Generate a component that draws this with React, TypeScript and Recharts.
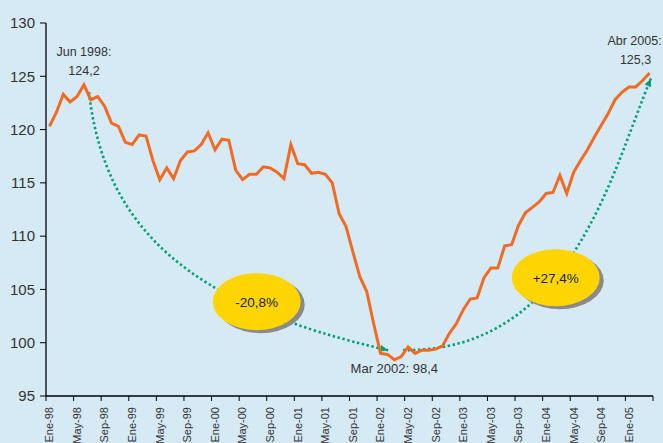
import { ComposedChart, Line, XAxis, YAxis, Customized } from "recharts";

// Índice de precios, mensual Ene-98 .. Abr-05
const meses = ["Ene", "Feb", "Mar", "Abr", "May", "Jun", "Jul", "Ago", "Sep", "Oct", "Nov", "Dic"];
const anios = ["98", "99", "00", "01", "02", "03", "04", "05"];

const indice = [
  120.3, 121.6, 123.3, 122.6, 123.1, 124.2, 122.8, 123.1, 122.2, 120.6, 120.3, 118.8,
  118.6, 119.5, 119.4, 117.1, 115.3, 116.4, 115.4, 117.1, 117.9, 118.0, 118.6, 119.7,
  118.1, 119.1, 119.0, 116.2, 115.3, 115.8, 115.8, 116.5, 116.4, 116.0, 115.4, 118.6,
  116.8, 116.7, 115.9, 116.0, 115.8, 115.0, 112.1, 110.9, 108.5, 106.2, 104.8, 101.8,
  99.0, 98.9, 98.4, 98.7, 99.6, 99.0, 99.3, 99.3, 99.4, 99.7, 100.9, 101.8,
  103.1, 104.1, 104.2, 106.1, 107.0, 107.0, 109.1, 109.2, 111.0, 112.2, 112.7, 113.2,
  114.0, 114.1, 115.7, 114.0, 116.0, 117.1, 118.1, 119.3, 120.4, 121.5, 122.8, 123.5,
  124.0, 124.0, 124.6, 125.3,
];

const etiquetas = anios.flatMap((a) => meses.map((m) => `${m}-${a}`)).slice(0, indice.length);
const data = etiquetas.map((mes, i) => ({ mes, valor: indice[i] }));

const yTicks = [95, 100, 105, 110, 115, 120, 125, 130];

// anotaciones: [índice de mes, valor]
const curvaBaja = [[5.73, 123.5], [8.05, 110.6], [20.4, 103.5], [49.1, 99.3]];
const curvaAlza = [[51.25, 99.3], [75.5, 99.1], [81.4, 115.8], [87.2, 124.8]];
const globos = [
  { i: 30.05, v: 103.85, texto: "-20,8%" },
  { i: 73.4, v: 106.1, texto: "+27,4%" },
];

const W = 663;
const H = 443;
const M = { top: 23, right: 10, left: 0, bottom: 0 };
const YW = 46;
const XH = 47;
const PL = M.left + YW;
const PW = W - M.right - PL;
const PT = M.top;
const PH = H - M.top - XH;
const BW = PW / indice.length;

const px = (i: number) => PL + (i + 0.5) * BW;
const py = (v: number) => PT + ((130 - v) / 35) * PH;

const FONT = "'Liberation Sans', Arial, sans-serif";
const VERDE = "#00a06e";

function XTick(props: any) {
  const { x, y, payload, index } = props;
  const left = x - BW / 2;
  return (
    <g>
      <line x1={left} x2={left} y1={y - 8} y2={y - 3} stroke="#000" />
      {payload.index === 84 || index === 21 ? (
        <line x1={left + 4 * BW} x2={left + 4 * BW} y1={y - 8} y2={y - 3} stroke="#000" />
      ) : null}
      <text
        transform={`translate(${x},${y + 3}) rotate(-90)`}
        textAnchor="end"
        dy="0.35em"
        fontSize={11}
        fill="#333"
        fontFamily={FONT}
      >
        {payload.value}
      </text>
    </g>
  );
}

function curvaPath(pts: number[][]) {
  const p = pts.map(([i, v]) => [px(i), py(v)]);
  return { d: `M${p[0][0]},${p[0][1]} C${p[1][0]},${p[1][1]} ${p[2][0]},${p[2][1]} ${p[3][0]},${p[3][1]}`, p };
}

function Flecha({ pts }: { pts: number[][] }) {
  const { d, p } = curvaPath(pts);
  const [x3, y3] = p[3];
  const [x2, y2] = p[2];
  const a = Math.atan2(y3 - y2, x3 - x2);
  const L = 8;
  const w = 3.5;
  const bx = x3 - L * Math.cos(a);
  const by = y3 - L * Math.sin(a);
  const tri = `${x3},${y3} ${bx - w * Math.sin(a)},${by + w * Math.cos(a)} ${bx + w * Math.sin(a)},${by - w * Math.cos(a)}`;
  return (
    <g>
      <path d={d} fill="none" stroke={VERDE} strokeWidth={2.6} strokeDasharray="2.4 2.6" />
      <polygon points={tri} fill={VERDE} />
    </g>
  );
}

function Anotaciones() {
  return (
    <g>
      <Flecha pts={curvaBaja} />
      <Flecha pts={curvaAlza} />
      {globos.map((g) => (
        <g key={g.texto}>
          <ellipse cx={px(g.i) + 4} cy={py(g.v) + 3} rx={44} ry={28.5} fill="#8a8a8a" />
          <ellipse cx={px(g.i)} cy={py(g.v)} rx={44} ry={28.5} fill="#ffd500" />
          <text x={px(g.i)} y={py(g.v) + 5} textAnchor="middle" fontSize={13.5} fill="#222" fontFamily={FONT}>
            {g.texto}
          </text>
        </g>
      ))}
      <text x={px(5)} y={py(124.2) - 29} textAnchor="middle" fontSize={12.5} fill="#333" fontFamily={FONT}>
        Jun 1998:
      </text>
      <text x={px(5)} y={py(124.2) - 10} textAnchor="middle" fontSize={12.5} fill="#333" fontFamily={FONT}>
        124,2
      </text>
      <text x={px(87) - 15} y={py(125.3) - 28} textAnchor="middle" fontSize={12.5} fill="#333" fontFamily={FONT}>
        Abr 2005:
      </text>
      <text x={px(87) - 14} y={py(125.3) - 9} textAnchor="middle" fontSize={12.5} fill="#333" fontFamily={FONT}>
        125,3
      </text>
      <text x={px(50)} y={py(98.4) + 13} textAnchor="middle" fontSize={13} fill="#333" fontFamily={FONT}>
        Mar 2002: 98,4
      </text>
    </g>
  );
}

export default function App() {
  return (
    <div style={{ position: "absolute", left: 0, top: 0, width: W, height: H, background: "#d6eaf5" }}>
      <ComposedChart width={W} height={H} data={data} margin={M}>
        <XAxis
          dataKey="mes"
          scale="band"
          interval={3}
          height={XH}
          tickLine={false}
          axisLine={{ stroke: "#000", strokeWidth: 1.3 }}
          tick={<XTick />}
        />
        <YAxis
          domain={[95, 130]}
          ticks={yTicks}
          width={YW}
          tickSize={6}
          tickMargin={5}
          axisLine={{ stroke: "#000", strokeWidth: 1.3 }}
          tickLine={{ stroke: "#000" }}
          tick={{ fontSize: 15, fill: "#333", fontFamily: FONT }}
        />
        <Customized component={Anotaciones} />
        <Line
          type="linear"
          dataKey="valor"
          stroke="#f26b24"
          strokeWidth={3}
          dot={false}
          isAnimationActive={false}
        />
      </ComposedChart>
    </div>
  );
}
